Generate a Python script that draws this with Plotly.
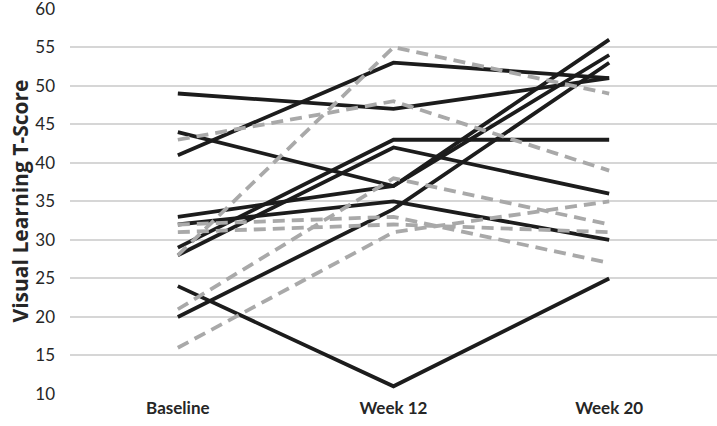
import plotly.graph_objects as go

categories = ["Baseline", "Week 12", "Week 20"]

# solid black lines: one per subject, values at Baseline / Week 12 / Week 20
solid_subjects = [
    [49, 47, 51],
    [41, 53, 51],
    [44, 37, 54],
    [33, 37, 56],
    [29, 43, 43],
    [28, 42, 36],
    [32, 35, 30],
    [20, 34, 53],
    [24, 11, 25],
]

# grey dashed lines
dashed_subjects = [
    [28, 55, 49],
    [43, 48, 39],
    [21, 38, 32],
    [32, 33, 27],
    [31, 32, 31],
    [16, 31, 35],
]

y_ticks = [10, 15, 20, 25, 30, 35, 40, 45, 50, 55, 60]

fig = go.Figure()

for vals in solid_subjects:
    fig.add_trace(go.Scatter(
        x=categories, y=vals, mode="lines",
        line=dict(color="#1c1c1c", width=3.8),
        showlegend=False, hoverinfo="skip"
    ))

for vals in dashed_subjects:
    fig.add_trace(go.Scatter(
        x=categories, y=vals, mode="lines",
        line=dict(color="#a9a9a9", width=3.8, dash="12px,7px"),
        showlegend=False, hoverinfo="skip"
    ))

fig.update_layout(
    width=717, height=426,
    margin=dict(l=70, r=0, t=8, b=32),
    plot_bgcolor="white", paper_bgcolor="white",
    font=dict(family="Lato", color="#262626", size=17),
)

fig.update_xaxes(
    type="category", range=[-0.5, 2.5], automargin=False,
    showgrid=False, zeroline=False, showline=False,
    tickfont=dict(size=17, weight="bold"),
    ticks="", ticklabelstandoff=2,
)

fig.update_yaxes(
    range=[10, 60.1], tickvals=y_ticks, automargin=False,
    showgrid=True, gridcolor="#d6d6d6", gridwidth=2,
    zeroline=False, showline=False,
    tickfont=dict(size=17), ticklabeloverflow="allow",
    ticklabelstandoff=14,
    title=dict(text="Visual Learning T-Score",
               font=dict(family="Open Sans", size=21, weight="bold"), standoff=0),
)

# drop the default page margin so the figure sits at the window's corner
fig.write_html("out.html", config={"displayModeBar": False},
               post_script="document.body.style.margin='0';")
